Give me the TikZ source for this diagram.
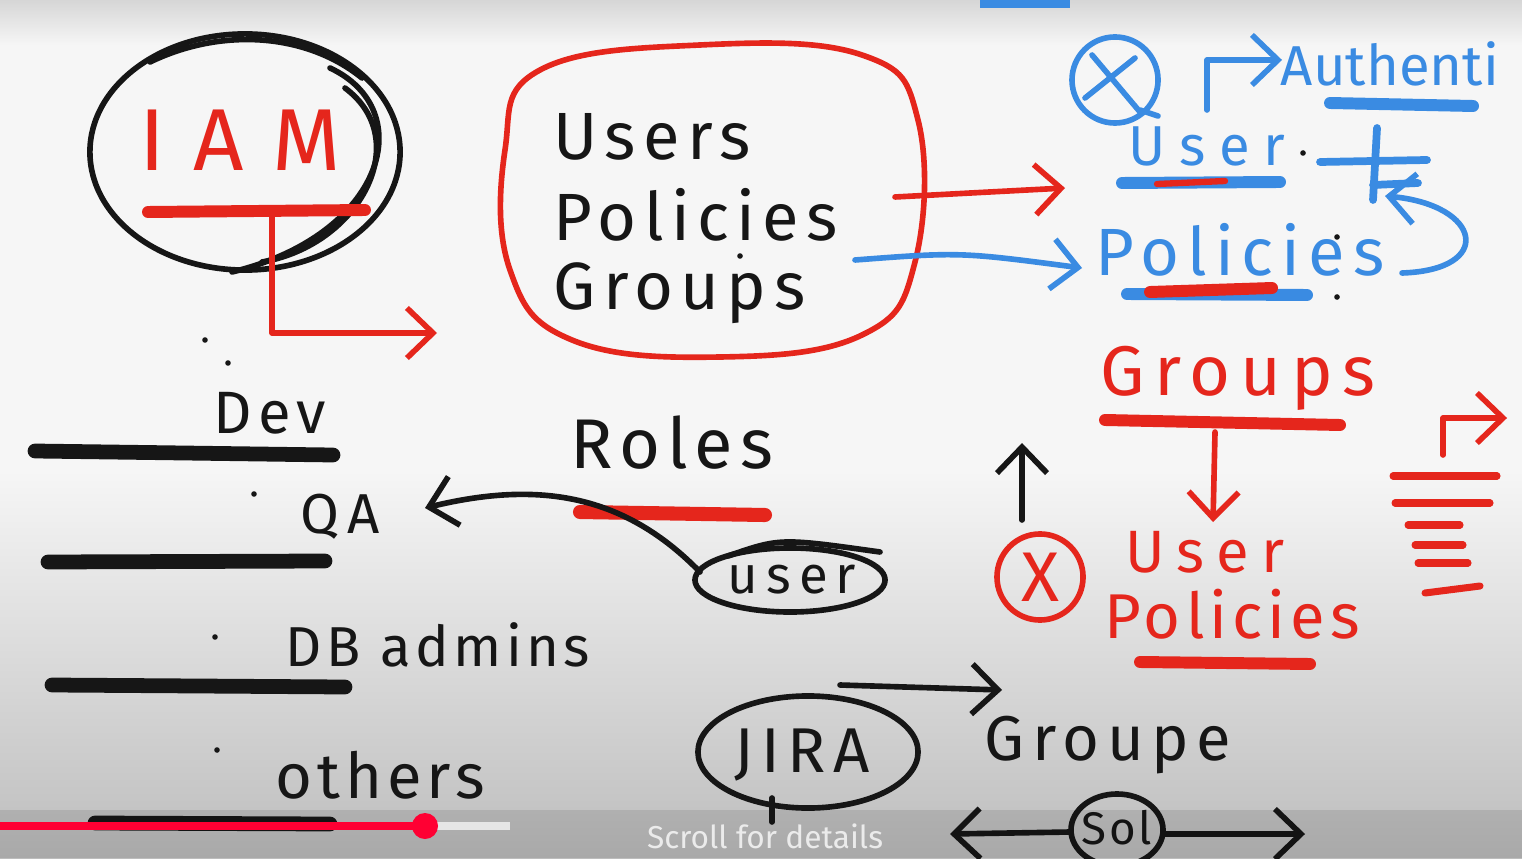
\documentclass[tikz,border=0pt]{standalone}
\usepackage{fontspec}
\setmainfont{Fira Sans}
\usepackage{xcolor}
\usetikzlibrary{arrows.meta}
\definecolor{inkred}{HTML}{E5261C}
\definecolor{inkblue}{HTML}{3A8BE2}
\definecolor{inkblack}{HTML}{161616}
\definecolor{boardtop}{HTML}{D6D6D6}
\definecolor{boardmid}{HTML}{F6F6F6}
\definecolor{boardlow}{HTML}{BDBDBD}
\definecolor{tubered}{HTML}{FF0033}

\tikzset{
  pen/.style={line width=1.6pt, line cap=round, line join=round},
  marker/.style={line width=3.4pt, line cap=round},
  tip/.style={-{Straight Barb[length=2.6mm, width=5mm]}},
  hand/.style 2 args={inner sep=0pt, font=\fontsize{#1}{#1}\selectfont\addfontfeatures{LetterSpace=#2}},
}

\begin{document}
\begin{tikzpicture}[x=0.01cm, y=-0.01cm, inkblack]
    \useasboundingbox (0,0) rectangle (1522,858);
    \clip (0,0) rectangle (1522,858);

    % board
    \fill[top color=boardtop, bottom color=boardmid] (0,0) rectangle (1522,45);
    \fill[boardmid] (0,45) rectangle (1522,470);
    \fill[top color=boardmid, bottom color=boardlow] (0,470) rectangle (1522,858);
    \fill[inkblue] (980,0) rectangle (1070,8);

    % IAM
    \node[hand={25}{32}, text=inkred] (iam) at (240,140) {IAM};
    \draw[pen] (245,152) ellipse [x radius=1.55cm, y radius=1.18cm];
    \draw[pen] (330,68) .. controls (420,110) and (385,235) .. (232,272);
    \draw[pen] (345,88) .. controls (415,140) and (360,245) .. (262,262);
    \draw[pen] (150,62) .. controls (220,28) and (305,32) .. (362,78);
    \draw[marker, inkred] (148,212) -- (365,210);
    \coordinate (iamfoot) at (272,214);
    \coordinate (iamto) at (437,333);
    \draw[pen, inkred, tip] (iamfoot) |- (iamto);

    % users / policies / groups
    \node[hand={19}{11}, anchor=west] (users) at (553,137) {Users};
    \node[hand={19}{11}, anchor=west] (policies) at (553,215) {Policies};
    \node[hand={19}{11}, anchor=west] (groups) at (553,293) {Groups};
    \draw[pen, inkred] plot[smooth cycle, tension=0.7] coordinates {(540,70) (700,45) (862,55) (918,120) (915,262) (862,335) (720,357) (572,340) (510,270) (505,150)};

    \coordinate (redtail) at (895,197);
    \coordinate (redhead) at (1065,188);
    \draw[pen, inkred, tip] (redtail) -- (redhead);
    \coordinate (bluetail) at (855,260);
    \coordinate (bluehead) at (1082,268);
    \draw[pen, inkblue, tip] (bluetail) .. controls (960,252) .. (bluehead);

    % blue notes
    \draw[pen, inkblue] (1115,80) circle (0.43cm);
    \draw[pen, inkblue] (1092,55) -- (1140,112) (1085,98) -- (1135,58) (1140,110) -- (1158,116);
    \node[hand={16}{0}, text=inkblue] (authn) at (1390,64) {Authenti};
    \coordinate (authfrom) at (1207,110);
    \coordinate (authto) at (1282,60);
    \draw[pen, inkblue, tip] (authfrom) |- (authto);
    \draw[marker, inkblue] (1330,103) -- (1473,106);
    \node[hand={16}{24}, text=inkblue] (buser) at (1207,146) {User};
    \draw[marker, inkblue] (1122,183) -- (1280,182);
    \draw[line width=1.8pt, inkred, line cap=round] (1157,184) -- (1225,181);
    \draw[pen, inkblue, line width=2.2pt] (1320,162) -- (1427,160) (1377,128) -- (1373,200) (1373,185) -- (1418,183);
    \coordinate (hookfrom) at (1402,273);
    \coordinate (hookto) at (1385,196);
    \draw[pen, inkblue, tip] (hookfrom) .. controls (1495,270) and (1482,205) .. (hookto);
    \node[hand={19}{12}, text=inkblue] (bpol) at (1240,250) {Policies};
    \draw[marker, inkblue] (1127,294) -- (1307,295);
    \draw[marker, inkred] (1150,292) -- (1272,288);

    % red notes
    \node[hand={20}{14}, text=inkred] (rgroups) at (1238,378) {Groups};
    \draw[marker, inkred] (1105,420) -- (1340,425);
    \coordinate (gdown) at (1215,432);
    \coordinate (gto) at (1213,522);
    \draw[pen, inkred, tip] (gdown) -- (gto);
    \node[hand={17}{20}, text=inkred] (ruser) at (1205,552) {User};
    \node[hand={18}{8}, text=inkred] (rpol) at (1232,614) {Policies};
    \draw[marker, inkred] (1140,662) -- (1310,664);
    \node[hand={20}{0}, text=inkred, circle, draw=inkred, pen, minimum size=0.86cm] (rx) at (1040,577) {X};
    \coordinate (upfrom) at (1022,520);
    \coordinate (upto) at (1022,443);
    \draw[pen, tip] (upfrom) -- (upto);
    \coordinate (sidefrom) at (1443,455);
    \coordinate (sideto) at (1507,418);
    \draw[pen, inkred, tip] (sidefrom) |- (sideto);
    \foreach \xa/\xb/\y in {1393/1497/476, 1395/1490/503, 1408/1460/525, 1415/1463/545, 1418/1468/563}
        \draw[pen, inkred, line width=2pt] (\xa,\y) -- (\xb,\y);
    \draw[pen, inkred, line width=2pt] (1425,593) -- (1480,586);

    % roles list
    \node[hand={17}{10}] (dev) at (270,413) {Dev};
    \draw[marker, line width=4.2pt] (35,451) -- (333,455);
    \node[hand={16}{15}] (qa) at (340,517) {QA};
    \draw[marker, line width=4.2pt] (48,562) -- (325,561);
    \node[hand={16}{8}] (dbadm) at (438,645) {DB admins};
    \draw[marker, line width=4.2pt] (52,685) -- (345,687);
    \node[hand={18}{8}] (others) at (380,775) {others};
    \draw[marker, line width=4.2pt] (95,823) -- (330,824);
    \foreach \p in {(205,340), (228,363), (254,494), (215,637), (217,750), (740,256), (1303,153), (1337,237), (1337,297)}
        \fill \p circle (0.028cm);

    % roles
    \node[hand={20}{10}] (roles) at (672,443) {Roles};
    \draw[marker, inkred, line width=4pt] (580,512) -- (765,515);
    \node[hand={15}{15}] (ruser2) at (792,580) {user};
    \draw[pen] (790,580) ellipse [x radius=0.95cm, y radius=0.32cm];
    \draw[pen] (728,556) .. controls (780,538) .. (880,552);
    \coordinate (userleft) at (700,572);
    \coordinate (qato) at (425,508);
    \draw[pen, tip] (userleft) .. controls (625,495) and (540,480) .. (qato);

    % jira
    \node[hand={18}{12}] (jira) at (802,755) {JIRA};
    \draw[pen] (808,752) ellipse [x radius=1.1cm, y radius=0.56cm];
    \coordinate (jirafrom) at (840,685);
    \coordinate (jirato) at (1002,690);
    \draw[pen, tip] (jirafrom) -- (jirato);
    \coordinate (jiratop) at (772,798);
    \coordinate (jirafoot) at (772,822);
    \draw[pen] (jiratop) -- (jirafoot);
    \node[hand={18}{12}] (groupe) at (1108,745) {Groupe};
    \node[hand={13}{6}] (sol) at (1117,828) {Sol};
    \draw[pen] (1117,830) ellipse [x radius=0.46cm, y radius=0.36cm];
    \coordinate (solleft) at (950,834);
    \coordinate (solright) at (1305,834);
    \draw[pen, tip] (1070,832) -- (solleft);
    \draw[pen, tip] (1163,834) -- (solright);

    % player bar
    \fill[black, opacity=0.1] (0,810) rectangle (1522,858);
    \draw[line width=2.2pt, white!80!gray] (425,826) -- (510,826);
    \draw[line width=2.2pt, tubered] (0,826) -- (425,826);
    \fill[tubered] (425,826) circle (0.13cm);
    \node[inner sep=0pt, font=\fontsize{9}{9}\selectfont, text=white!92!black] (scroll) at (765,836) {Scroll for details};
\end{tikzpicture}
\end{document}
